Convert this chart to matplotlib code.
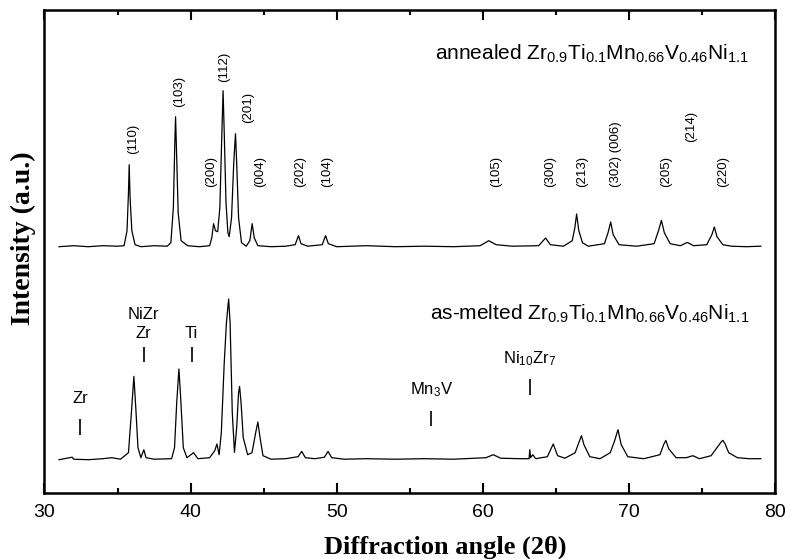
import matplotlib
matplotlib.use("Agg")
import matplotlib.pyplot as plt

plt.rcParams['font.family'] = ['Liberation Sans', 'DejaVu Sans']
plt.rcParams['mathtext.fontset'] = 'custom'
plt.rcParams['mathtext.rm'] = 'Liberation Sans'
plt.rcParams['mathtext.it'] = 'Liberation Sans:italic'

# annealed pattern (2theta, intensity incl. offset)
annealed_x = [31.0, 32.0, 33.0, 34.0, 35.0, 35.45, 35.65, 35.75, 35.8, 35.86, 35.98, 36.2, 36.6,
              37.5, 38.4, 38.65, 38.82, 38.92, 38.97, 39.03, 39.15, 39.35, 39.8, 40.6, 41.3,
              41.45, 41.57, 41.7, 41.85, 42.0, 42.12, 42.22, 42.3, 42.42, 42.55, 42.64, 42.8,
              42.95, 43.07, 43.15, 43.28, 43.48, 43.8, 44.05, 44.21, 44.35, 44.6, 45.5, 46.5,
              47.15, 47.38, 47.55, 48.0, 49.0, 49.23, 49.42, 50.0, 52.0, 54.0, 56.0, 58.0,
              59.8, 60.39, 60.9, 62.0, 63.8, 64.28, 64.6, 65.5, 66.1, 66.28, 66.4, 66.55,
              66.8, 67.2, 68.3, 68.55, 68.73, 68.9, 69.3, 70.5, 71.7, 72.0, 72.2, 72.4, 72.8,
              73.5, 73.97, 74.4, 75.3, 75.65, 75.82, 76.0, 76.4, 77.0, 78.0, 79.0]
annealed_y = [246, 247, 246, 247, 246.5, 247, 262, 300, 328, 295, 262, 248, 246,
              247, 246.5, 250, 285, 350, 376, 345, 280, 252, 247, 246, 247,
              255, 269, 262, 261, 285, 350, 402, 360, 290, 260, 256, 275,
              330, 359, 330, 275, 250, 246.5, 252, 269, 255, 247, 246, 246.5,
              248, 257, 249, 246.5, 248, 257, 249, 246, 247, 246, 246.5, 246,
              247, 252, 248, 246.5, 247, 254.7, 248, 246.5, 252, 265, 278.7, 262,
              250, 246.5, 249, 260, 270.7, 258, 248, 246.5, 249, 262, 272.3, 260, 249,
              247, 250.3, 247, 248, 258, 265.7, 256, 248, 246.5, 246, 246.5]

# as-melted pattern
melted_x = [31.0, 31.9, 32.0, 33.0, 34.0, 34.6, 35.2, 35.75, 35.95, 36.12, 36.25, 36.4, 36.6,
            36.8, 36.95, 37.5, 38.7, 38.9, 39.05, 39.2, 39.32, 39.5, 39.75, 40.2, 40.5,
            41.3, 41.65, 41.8, 41.95, 42.1, 42.3, 42.45, 42.6, 42.7, 42.85, 43.0, 43.15,
            43.28, 43.35, 43.45, 43.6, 43.9, 44.2, 44.45, 44.6, 44.75, 44.95, 45.5, 46.5,
            47.35, 47.6, 47.85, 48.5, 49.15, 49.4, 49.65, 50.5, 52.0, 54.0, 56.0, 58.0,
            60.2, 60.7, 61.2, 62.5, 63.15, 63.2, 63.25, 63.4, 63.6, 64.4, 64.8, 65.1,
            65.6, 66.3, 66.55, 66.73, 66.9, 67.3, 68.0, 68.7, 69.0, 69.23, 69.45, 69.9,
            71.0, 72.1, 72.35, 72.5, 72.7, 73.2, 73.9, 74.35, 74.8, 75.6, 76.0, 76.3,
            76.4, 76.55, 76.8, 77.4, 78.2, 79.0]
melted_y = [33, 35.5, 33.5, 33, 34, 35, 33.5, 40, 80, 116.3, 85, 45, 35,
            43, 35, 33.5, 34, 45, 90, 123.7, 95, 45, 35, 40, 34,
            35, 42, 48.7, 38, 60, 130, 170, 193.7, 170, 80, 40.3, 65,
            100, 106.3, 90, 55, 38, 40, 60, 70.7, 55, 37, 33.5, 34,
            36, 41.3, 35, 34, 35.5, 41.3, 35, 33.5, 34, 33.5, 34, 33.5,
            35, 38, 34.5, 34, 34, 43, 35, 38, 34, 36, 48.7, 37,
            34.5, 40, 50, 57, 48, 36, 34, 40, 52, 63, 48, 36,
            34, 38, 48, 52.3, 44, 35, 35, 37, 34, 37, 45, 51,
            52.3, 49, 40, 35, 34, 34]

# Miller indices of the annealed pattern: label, 2theta, bottom of label
hkl_labels = ['(110)', '(103)', '(200)', '(112)', '(201)', '(004)', '(202)', '(104)',
              '(105)', '(300)', '(213)', '(302) (006)', '(205)', '(214)', '(220)']
hkl_x = [36.04, 39.2, 41.39, 42.28, 43.94, 44.78, 47.52, 49.34,
         60.87, 64.61, 66.77, 69.12, 72.54, 74.24, 76.4]
hkl_y = [339, 386, 306, 411, 370, 306, 306, 306,
         306, 306, 306, 306, 306, 351, 306]

# secondary phases in the as-melted pattern
phase_labels = ['Zr', 'NiZr\nZr', 'Ti', r'Mn$_{\mathrm{3}}$V', r'Ni$_{\mathrm{10}}$Zr$_{\mathrm{7}}$']
phase_x = [32.43, 36.8, 40.07, 56.45, 63.19]
phase_text_y = [90, 155, 155, 98, 129]
phase_bar_top = [74, 146, 146, 82, 114]
phase_bar_bottom = [58, 131, 131, 67, 98]

fig = plt.figure(figsize=(7.9, 5.59), dpi=100)
ax = fig.add_axes([0.0562, 0.1186, 0.9254, 0.8635])

ax.plot(annealed_x, annealed_y, color='black', lw=0.9)
ax.plot(melted_x, melted_y, color='black', lw=0.9)

for lab, x, y in zip(hkl_labels, hkl_x, hkl_y):
    ax.text(x, y, lab, rotation=90, ha='center', va='bottom', fontsize=9.5)

for lab, x, ty in zip(phase_labels, phase_x, phase_text_y):
    ax.text(x, ty, lab, ha='center', va='baseline', fontsize=12, linespacing=1.3)
ax.vlines(phase_x, phase_bar_bottom, phase_bar_top, color='black', lw=1.2)

ax.text(78.2, 433, r'annealed Zr$_{\mathrm{0.9}}$Ti$_{\mathrm{0.1}}$Mn$_{\mathrm{0.66}}$V$_{\mathrm{0.46}}$Ni$_{\mathrm{1.1}}$',
        ha='right', va='baseline', fontsize=15)
ax.text(78.2, 173, r'as-melted Zr$_{\mathrm{0.9}}$Ti$_{\mathrm{0.1}}$Mn$_{\mathrm{0.66}}$V$_{\mathrm{0.46}}$Ni$_{\mathrm{1.1}}$',
        ha='right', va='baseline', fontsize=15)

ax.set_xlim(30, 80)
ax.set_ylim(0, 482.7)
ax.set_xticks([30, 40, 50, 60, 70, 80])
ax.set_xticks([35, 45, 55, 65, 75], minor=True)
ax.set_yticks([])
ax.tick_params(axis='x', which='both', direction='in', top=True, bottom=True,
               labelsize=14, pad=8, width=1.5)
ax.tick_params(axis='x', which='major', length=7)
ax.tick_params(axis='x', which='minor', length=3.6)
for s in ax.spines.values():
    s.set_linewidth(1.8)

fig.text(445 / 790, 1 - 547 / 559, 'Diffraction angle (2\u03b8)', ha='center', va='center',
         fontsize=19, fontweight='bold', family='Liberation Serif')
fig.text(23 / 790, 1 - 238 / 559, 'Intensity (a.u.)', ha='center', va='center', rotation=90,
         fontsize=20, fontweight='bold', family='Liberation Serif')

fig.savefig('out.png', dpi=100)
